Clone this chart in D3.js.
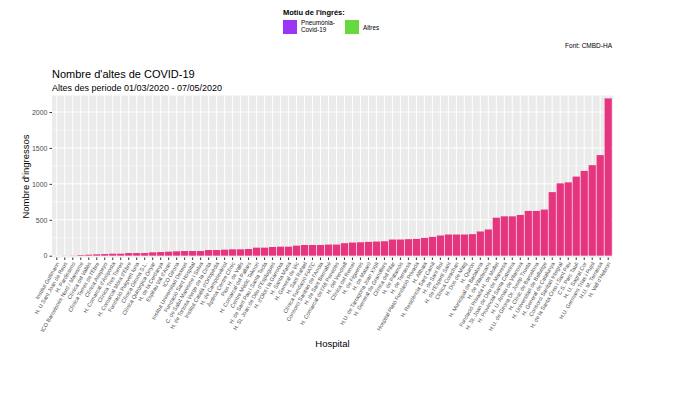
<!DOCTYPE html>
<html>
<head>
<meta charset="utf-8">
<script src="https://cdn.jsdelivr.net/npm/d3@7"></script>
<style>
  body { margin: 0; background: #fff; }
  svg { font-family: "Liberation Sans", Arial, sans-serif; }
</style>
</head>
<body>
<div id="chart"></div>
<script>
// hospitals, sorted by number of discharges
var hospitals = [
  "Institut Guttmann", "H. U Sant Joan de Reus", "H. Pardissimo", "ICO Barcelonès Nord / Maresme",
  "Clínica del Vallès", "Clínica Terres de l'Ebre", "Clínica Asepeyo", "H. Comarcal d'Amposta",
  "Clínica Tres Torres", "H. Comarcal Móra d'Ebre", "Fundació Puigvert Iuna", "Clínica Girona S.L.",
  "Clínica Quirúrgica Onyar", "H. de la Cerdanya", "Espitau Val d'Aran", "ICO Girona",
  "Institut Universitari Dexeus", "Fundació Sant Hospital", "C. de Salut Maresme i Selva",
  "H. de Tortosa Verge de la Cinta", "Institut Català d'Ortopèdia", "H. de Campdevànol",
  "Àptima Centre Clínic", "Pius H. de Valls", "H. Comarcal del Pallars", "Centre Mèdic Teknon",
  "H. de Sant Pau i Santa Tecla", "H. St. Joan de Déu d'Esplugues", "H. d'Olot i la Garrotxa",
  "H. Santa Maria", "H. General de Vic", "H. Sant Rafael", "Clínica Fundació FIATC",
  "Consorci Sanitari de l'Anoia", "H. de Sant Bernabé", "H. Comarcal de l'Alt Penedès",
  "H. del Vendrell", "Clínica del Remei", "H. de Figueres", "H. de Mataró",
  "H.U. de Tarragona Joan XXIII", "H. General de Granollers", "Clínica del Pilar", "H. de Palamós",
  "H. de Terrassa", "Hospital Plató Fundació Privada", "H. Althaia", "H. Residència Sant Camil",
  "H. de Sant Boi", "H. de l'Esperit Sant", "Clínica Corachan", "H. Dos de Maig", "H. Quirón",
  "H. Municipal de Badalona", "H. de Viladecans", "Fundació Privada H. de Mollet",
  "H. St. Joan de Déu de Manresa", "H. Provincial Santa Caterina", "H. U. Arnau de Vilanova",
  "H.U. de Girona Dr. Josep Trueta", "H. Clínic de Barcelona", "H. Universitari de Bellvitge",
  "H. General de Catalunya", "Consorci Sanitari Integral", "H. de la Santa Creu i Sant Pau",
  "C.S. Parc Taulí", "H. U. Sagrat Cor", "H.U. Germans Trias i Pujol", "H.U. M. Terrassa",
  "H. Vall d'Hebron"
];

var altes = [
  1, 2, 3, 9, 14, 19, 23, 28, 28, 37,
  37, 37, 47, 51, 56, 61, 65, 65, 65, 79,
  79, 84, 89, 89, 93, 112, 112, 121, 126, 126,
  140, 149, 149, 149, 155, 155, 174, 183, 187, 192,
  197, 201, 225, 225, 230, 234, 248, 262, 281, 295,
  295, 295, 300, 337, 365, 529, 548, 548, 567, 623,
  623, 642, 885, 1007, 1021, 1101, 1180, 1260, 1400, 2190
];

var yTicks = [0, 500, 1000, 1500, 2000];
var yMinor = [250, 750, 1250, 1750];

var legendLabels = [["Pneumònia-", "Covid-19"], ["Altres"]];
var legendColors = ["#9a35f5", "#66d93f"];

var width = 700, height = 394;
var panel = { left: 52, right: 613, top: 95.5, bottom: 257.5 };

var svg = d3.select("#chart").append("svg").attr("width", width).attr("height", height);

var x = d3.scaleBand()
  .domain(hospitals)
  .range([panel.left, panel.right])
  .paddingInner(0.1)
  .paddingOuter(0.15);

var y = d3.scaleLinear()
  .domain([-25, 2230])
  .range([panel.bottom, panel.top]);

// panel background
svg.append("rect")
  .attr("x", panel.left).attr("y", panel.top)
  .attr("width", panel.right - panel.left).attr("height", panel.bottom - panel.top)
  .attr("fill", "#ebebeb");

// minor grid
svg.selectAll("line.minor").data(yMinor).enter().append("line")
  .attr("x1", panel.left).attr("x2", panel.right)
  .attr("y1", function (d) { return y(d); }).attr("y2", function (d) { return y(d); })
  .attr("stroke", "#fff").attr("stroke-width", 0.5);

// major grid
svg.selectAll("line.majorY").data(yTicks).enter().append("line")
  .attr("x1", panel.left).attr("x2", panel.right)
  .attr("y1", function (d) { return y(d); }).attr("y2", function (d) { return y(d); })
  .attr("stroke", "#fff").attr("stroke-width", 1);

svg.selectAll("line.majorX").data(hospitals).enter().append("line")
  .attr("x1", function (d) { return x(d) + x.bandwidth() / 2; })
  .attr("x2", function (d) { return x(d) + x.bandwidth() / 2; })
  .attr("y1", panel.top).attr("y2", panel.bottom)
  .attr("stroke", "#fff").attr("stroke-width", 1);

// bars
svg.selectAll("rect.bar").data(altes).enter().append("rect")
  .attr("class", "bar")
  .attr("fill", "#e6347f")
  .attr("x", function (d, i) { return x(hospitals[i]); })
  .attr("width", x.bandwidth())
  .attr("y", function (d) { return y(d); })
  .attr("height", function (d) { return y(0) - y(d); });

// y axis
var yAxis = svg.append("g")
  .attr("transform", "translate(" + panel.left + ",0)")
  .call(d3.axisLeft(y).tickValues(yTicks).tickFormat(d3.format("d")).tickSize(2.5).tickPadding(2));
yAxis.select(".domain").remove();
yAxis.selectAll("line").attr("stroke", "#333");
yAxis.selectAll("text").attr("fill", "#4d4d4d").style("font-size", "7px")
  .style("font-family", "Liberation Sans, Arial, sans-serif");

// x axis
var xAxis = svg.append("g")
  .attr("transform", "translate(0," + panel.bottom + ")")
  .call(d3.axisBottom(x).tickSize(2.5).tickPadding(1));
xAxis.select(".domain").remove();
xAxis.selectAll("line").attr("stroke", "#333");
xAxis.selectAll("text")
  .attr("fill", "#4d4d4d")
  .style("font-size", "5.5px")
  .style("font-family", "Liberation Sans, Arial, sans-serif")
  .attr("text-anchor", "end")
  .attr("x", 0).attr("y", 0)
  .attr("dy", "0.35em")
  .attr("transform", "translate(1,5) rotate(-60)");

// axis titles
svg.append("text")
  .attr("x", (panel.left + panel.right) / 2).attr("y", 347)
  .attr("text-anchor", "middle").style("font-size", "9.5px").attr("fill", "#000")
  .text("Hospital");

svg.append("text")
  .attr("transform", "translate(29," + (panel.top + panel.bottom) / 2 + ") rotate(-90)")
  .attr("text-anchor", "middle").style("font-size", "9.5px").attr("fill", "#000")
  .text("Nombre d'ingressos");

// titles
svg.append("text").attr("x", panel.left).attr("y", 78)
  .style("font-size", "11px").attr("fill", "#000")
  .text("Nombre d'altes de COVID-19");

svg.append("text").attr("x", panel.left).attr("y", 91)
  .style("font-size", "9px").attr("fill", "#000")
  .text("Altes des periode 01/03/2020 - 07/05/2020");

svg.append("text").attr("x", 612).attr("y", 48)
  .attr("text-anchor", "end").style("font-size", "6.5px").attr("fill", "#000")
  .text("Font: CMBD-HA");

// legend
var legend = svg.append("g");
legend.append("text").attr("x", 283).attr("y", 15)
  .style("font-size", "7.5px").style("font-weight", "bold").attr("fill", "#000")
  .text("Motiu de l'ingrés:");

var keyX = [283, 345];
legendColors.forEach(function (c, i) {
  legend.append("rect")
    .attr("x", keyX[i]).attr("y", 20).attr("width", 14).attr("height", 14)
    .attr("fill", c);
  var t = legend.append("text")
    .attr("x", keyX[i] + 18)
    .attr("y", legendLabels[i].length > 1 ? 25 : 29.5)
    .style("font-size", "6.3px").attr("fill", "#000");
  legendLabels[i].forEach(function (line, j) {
    t.append("tspan").attr("x", keyX[i] + 18).attr("dy", j === 0 ? 0 : 7).text(line);
  });
});
</script>
</body>
</html>
